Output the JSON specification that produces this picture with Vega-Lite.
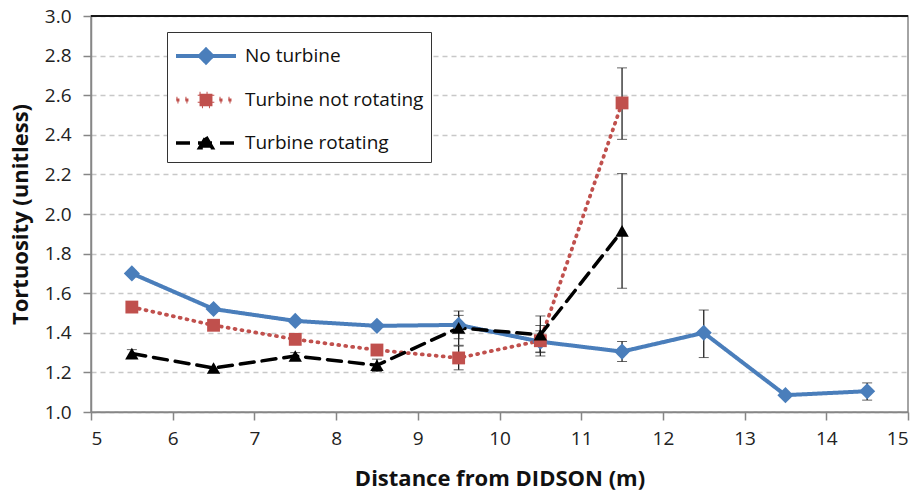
{
  "$schema": "https://vega.github.io/schema/vega-lite/v6.json",
  "width": 817,
  "height": 396,
  "autosize": {"type": "none"},
  "padding": {"left": 91, "top": 16, "right": 14, "bottom": 81},
  "background": "white",
  "config": {
    "font": "Open Sans",
    "view": {"stroke": "#868686", "strokeWidth": 1.5},
    "axis": {
      "labelFont": "Open Sans",
      "labelFontSize": 19,
      "labelColor": "#222222",
      "labelOverlap": false,
      "titleFont": "Open Sans",
      "titleFontSize": 22,
      "titleFontWeight": "bold",
      "titleColor": "#111111",
      "domainColor": "#868686",
      "domainWidth": 1.5,
      "tickColor": "#868686",
      "tickWidth": 1.5,
      "tickSize": 8
    }
  },
  "data": {
    "values": [
      {"series": "No turbine", "x": 5.5, "y": 1.70, "lo": null, "hi": null},
      {"series": "No turbine", "x": 6.5, "y": 1.52, "lo": null, "hi": null},
      {"series": "No turbine", "x": 7.5, "y": 1.46, "lo": null, "hi": null},
      {"series": "No turbine", "x": 8.5, "y": 1.435, "lo": null, "hi": null},
      {"series": "No turbine", "x": 9.5, "y": 1.44, "lo": 1.37, "hi": 1.51},
      {"series": "No turbine", "x": 10.5, "y": 1.355, "lo": 1.30, "hi": 1.41},
      {"series": "No turbine", "x": 11.5, "y": 1.305, "lo": 1.255, "hi": 1.356},
      {"series": "No turbine", "x": 12.5, "y": 1.40, "lo": 1.275, "hi": 1.515},
      {"series": "No turbine", "x": 13.5, "y": 1.085, "lo": null, "hi": null},
      {"series": "No turbine", "x": 14.5, "y": 1.105, "lo": 1.06, "hi": 1.147},
      {"series": "Turbine not rotating", "x": 5.5, "y": 1.53, "lo": null, "hi": null},
      {"series": "Turbine not rotating", "x": 6.5, "y": 1.438, "lo": null, "hi": null},
      {"series": "Turbine not rotating", "x": 7.5, "y": 1.367, "lo": null, "hi": null},
      {"series": "Turbine not rotating", "x": 8.5, "y": 1.313, "lo": null, "hi": null},
      {"series": "Turbine not rotating", "x": 9.5, "y": 1.273, "lo": 1.213, "hi": 1.333},
      {"series": "Turbine not rotating", "x": 10.5, "y": 1.36, "lo": 1.283, "hi": 1.437},
      {"series": "Turbine not rotating", "x": 11.5, "y": 2.561, "lo": 2.377, "hi": 2.738},
      {"series": "Turbine rotating", "x": 5.5, "y": 1.295, "lo": 1.275, "hi": 1.315},
      {"series": "Turbine rotating", "x": 6.5, "y": 1.222, "lo": null, "hi": null},
      {"series": "Turbine rotating", "x": 7.5, "y": 1.283, "lo": 1.265, "hi": 1.30},
      {"series": "Turbine rotating", "x": 8.5, "y": 1.236, "lo": 1.205, "hi": 1.267},
      {"series": "Turbine rotating", "x": 9.5, "y": 1.425, "lo": 1.337, "hi": 1.488},
      {"series": "Turbine rotating", "x": 10.5, "y": 1.39, "lo": 1.303, "hi": 1.485},
      {"series": "Turbine rotating", "x": 11.5, "y": 1.915, "lo": 1.625, "hi": 2.204}
    ]
  },
  "layer": [
    {
      "mark": {"type": "rule", "color": "#1a1a1a", "strokeWidth": 1.5},
      "encoding": {
        "y": {
          "datum": 3.0, "type": "quantitative",
          "title": "Tortuosity (unitless)",
          "scale": {"domain": [1.0, 3.0], "nice": false, "zero": false},
          "axis": {"values": [1.0,1.2,1.4,1.6,1.8,2.0,2.2,2.4,2.6,2.8,3.0], "tickCount": 11, "format": ".1f", "grid": true, "gridDash": [5, 4], "gridColor": "#c8c8c8", "gridWidth": 1.3, "labelPadding": 12, "titlePadding": 12, "labelOverlap": false}
        }
      }
    },
    {
      "transform": [{"filter": "datum.lo != null"}],
      "mark": {"type": "errorbar", "ticks": {"size": 10, "color": "#222222", "strokeWidth": 1.3}, "rule": {"color": "#222222", "strokeWidth": 1.3}},
      "encoding": {
        "x": {"field": "x", "type": "quantitative"},
        "y": {
          "field": "lo", "type": "quantitative",
          "title": "Tortuosity (unitless)",
          "scale": {"domain": [1.0, 3.0], "nice": false, "zero": false},
          "axis": {"values": [1.0,1.2,1.4,1.6,1.8,2.0,2.2,2.4,2.6,2.8,3.0], "tickCount": 11, "format": ".1f", "grid": true, "gridDash": [5, 4], "gridColor": "#c8c8c8", "gridWidth": 1.3, "labelPadding": 12, "titlePadding": 12, "labelOverlap": false}
        },
        "y2": {"field": "hi"}
      }
    },
    {
      "mark": {"type": "line", "strokeCap": "round", "strokeJoin": "round"},
      "encoding": {
        "x": {
          "field": "x", "type": "quantitative",
          "scale": {"domain": [5, 15], "nice": false, "zero": false},
          "axis": {"title": "Distance from DIDSON (m)", "values": [5,6,7,8,9,10,11,12,13,14,15], "format": "d", "grid": false, "labelPadding": 9, "titlePadding": 20}
        },
        "y": {
          "field": "y", "type": "quantitative",
          "title": "Tortuosity (unitless)",
          "scale": {"domain": [1.0, 3.0], "nice": false, "zero": false},
          "axis": {"values": [1.0,1.2,1.4,1.6,1.8,2.0,2.2,2.4,2.6,2.8,3.0], "tickCount": 11, "format": ".1f", "grid": true, "gridDash": [5, 4], "gridColor": "#c8c8c8", "gridWidth": 1.3, "labelPadding": 12, "titlePadding": 12, "labelOverlap": false}
        },
        "color": {
          "field": "series", "type": "nominal",
          "scale": {"domain": ["No turbine", "Turbine not rotating", "Turbine rotating"], "range": ["#4A7EBB", "#C0504D", "#000000"]},
          "legend": {
            "title": null, "orient": "none", "legendX": 76, "legendY": 16,
            "symbolType": "stroke", "symbolSize": 900, "symbolStrokeWidth": 3.5,
            "labelFont": "Open Sans", "labelFontSize": 19, "labelColor": "#111111", "labelLimit": 400,
            "strokeColor": "#333333", "fillColor": "white", "padding": 7,
            "rowPadding": 12, "labelOffset": 37,
            "encode": {
              "symbols": {
                "update": {
                  "shape": {"signal": "datum.value === 'No turbine' ? 'M-1,0H3M1,-0.42L1.42,0L1,0.42L0.58,0Z' : datum.value === 'Turbine not rotating' ? 'M-0.97,-0.1h0.2v0.2h-0.2ZM-0.37,-0.1h0.2v0.2h-0.2ZM0.57,-0.42H1.43V0.42H0.57ZM1.9,-0.1h0.2v0.2h-0.2ZM2.5,-0.1h0.2v0.2h-0.2Z' : 'M-1,0H3M1,-0.4L1.42,0.32H0.58Z'"},
                  "fill": {"scale": "color", "field": "value"},
                  "fillOpacity": {"value": 1},
                  "stroke": {"signal": "datum.value === 'Turbine not rotating' ? 'transparent' : scale('color', datum.value)"},
                  "strokeWidth": {"value": 3.5},
                  "strokeDash": {"signal": "datum.value === 'Turbine rotating' ? [14, 8] : [1, 0]"}
                }
              }
            }
          }
        },
        "strokeDash": {
          "field": "series", "type": "nominal",
          "scale": {"domain": ["No turbine", "Turbine not rotating", "Turbine rotating"], "range": [[1, 0], [1, 6], [14, 8]]},
          "legend": null
        },
        "strokeWidth": {
          "field": "series", "type": "nominal",
          "scale": {"domain": ["No turbine", "Turbine not rotating", "Turbine rotating"], "range": [4, 3.5, 4]},
          "legend": null
        }
      }
    },
    {
      "transform": [{"filter": "datum.series == 'No turbine'"}],
      "mark": {"type": "point", "filled": true, "opacity": 1, "shape": "diamond", "size": 260},
      "encoding": {
        "x": {"field": "x", "type": "quantitative"},
        "y": {"field": "y", "type": "quantitative"},
        "color": {"field": "series", "type": "nominal"}
      }
    },
    {
      "transform": [{"filter": "datum.series == 'Turbine not rotating'"}],
      "mark": {"type": "point", "filled": true, "opacity": 1, "shape": "square", "size": 165},
      "encoding": {
        "x": {"field": "x", "type": "quantitative"},
        "y": {"field": "y", "type": "quantitative"},
        "color": {"field": "series", "type": "nominal"}
      }
    },
    {
      "transform": [{"filter": "datum.series == 'Turbine rotating'"}],
      "mark": {"type": "point", "filled": true, "opacity": 1, "shape": "triangle-up", "size": 180},
      "encoding": {
        "x": {"field": "x", "type": "quantitative"},
        "y": {"field": "y", "type": "quantitative"},
        "color": {"field": "series", "type": "nominal"}
      }
    }
  ]
}
